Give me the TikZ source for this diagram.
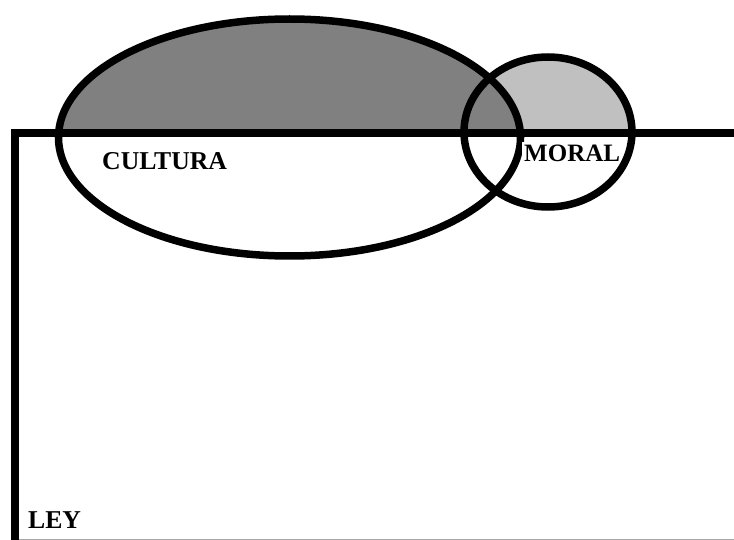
\documentclass[tikz,border=0pt]{standalone}
\usepackage{fontspec}
\setmainfont{Liberation Serif}
\usetikzlibrary{positioning}
\definecolor{darkfill}{HTML}{808080}
\definecolor{lightfill}{HTML}{C0C0C0}
\definecolor{edgegray}{HTML}{A8A8A8}
\tikzset{
	outline/.style={line width=7.5pt},
	label text/.style={font=\bfseries\fontsize{25.7}{30}\selectfont,inner sep=0pt,anchor=base west},
}
\begin{document}
\begin{tikzpicture}[x=1pt,y=-1pt]
				\useasboundingbox (0,0) rectangle (734,540);
				\coordinate (culturacenter) at (289.5,137.5);
				\coordinate (moralcenter) at (548,132);
				% shaded parts above the line
				\begin{scope}
				\clip (0,0) rectangle (734,133);
				\fill[lightfill] (moralcenter) ellipse [x radius=84, y radius=75];
				\fill[darkfill] (culturacenter) ellipse [x radius=231, y radius=118.5];
				\end{scope}
				\draw[edgegray,line width=1pt] (19,539.5) -- (734,539.5);
				\draw[outline] (culturacenter) ellipse [x radius=231, y radius=118.5];
				\node[label text,fill=white,inner xsep=2pt,inner ysep=3pt,font=\bfseries\fontsize{25}{30}\selectfont] (moral) at (522,162) {MORAL};
				\draw[outline] (moralcenter) ellipse [x radius=84, y radius=75];
				\draw[outline] (15,540) -- (15,133) -- (734,133);
				\node[label text] (cultura) at (102,170) {CULTURA};
				\node[label text] (ley) at (28,528) {LEY};
				\end{tikzpicture}
\end{document}
